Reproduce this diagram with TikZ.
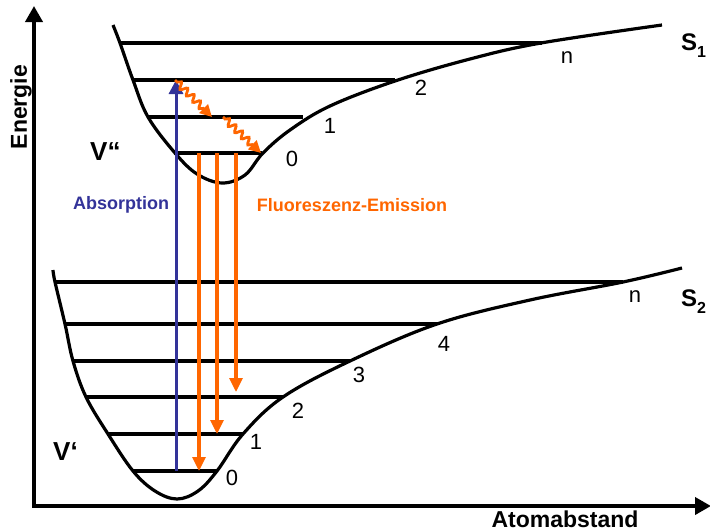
\documentclass[tikz,border=0pt]{standalone}
\usepackage{fontspec}
\setmainfont{Liberation Sans}
\usetikzlibrary{arrows.meta,decorations.pathmorphing}
\definecolor{absblue}{RGB}{51,51,153}
\definecolor{fluor}{RGB}{255,102,0}
\begin{document}
\begin{tikzpicture}[x=1pt,y=-1pt,
  level/.style={line width=3.4pt},
  pot/.style={line width=3.2pt, smooth, tension=0.6},
  axisline/.style={line width=3.8pt, line join=miter,
     {Triangle[width=17pt,length=16pt]}-{Triangle[width=17pt,length=16pt]}},
  absarrow/.style={absblue, line width=3pt, -{Triangle[width=14pt,length=14pt]}},
  fluarrow/.style={fluor, line width=3.2pt, -{Triangle[width=13pt,length=14pt]}},
  wavearrow/.style={fluor, line width=2.8pt, -{Triangle[width=12pt,length=12pt]},
     decorate, decoration={snake, amplitude=3.2pt, segment length=9pt, pre length=3pt, post length=10pt}},
  num/.style={font=\fontsize{22}{25}\selectfont, inner sep=0pt},
  bigb/.style={font=\fontsize{23}{27}\selectfont\bfseries, inner sep=0pt},
  midb/.style={font=\fontsize{18}{21}\selectfont\bfseries, inner sep=0pt},
  vlab/.style={font=\fontsize{26}{29}\selectfont\bfseries, inner sep=0pt, anchor=base west},
  slab/.style={font=\fontsize{24}{27}\selectfont\bfseries, inner sep=0pt, anchor=base west}
]
\useasboundingbox (0,0) rectangle (710,531);

% axes
\coordinate (Ytop) at (34,6);
\coordinate (O) at (34,506);
\coordinate (Xend) at (711,506);
\draw[axisline] (Ytop) -- (O) -- (Xend);
\node[bigb, rotate=90] (energie) at (21,107) {Energie};
\node[bigb] (atom) at (565,519) {Atomabstand};

% upper potential S1
\draw[pot] plot coordinates {(113,25) (120,43) (133,80) (148,117) (175,153) (197,174) (222,183)
  (245,175) (263,153) (290,130) (330,106) (395,81) (470,59) (541,43) (662,25)};
% lower potential S2
\draw[pot] plot coordinates {(53,270) (55,282) (65,324) (73,361) (86,397) (108,434) (133,471) (155,491) (177,499)
  (198,491) (217,471) (243,434) (283,397) (350,361) (437,324) (530,300) (623,282) (682,268)};

% upper levels
\coordinate (u3L) at (120,43);  \coordinate (u3R) at (542,43);
\coordinate (u2L) at (133,80);  \coordinate (u2R) at (395,80);
\coordinate (u1L) at (147,117); \coordinate (u1R) at (303,117);
\coordinate (u0L) at (174,153); \coordinate (u0R) at (262,153);
\foreach \l in {u3,u2,u1,u0} \draw[level] (\l L) -- (\l R);

% lower levels
\coordinate (lnL) at (54,282);  \coordinate (lnR) at (623,282);
\coordinate (l4L) at (65,324);  \coordinate (l4R) at (437,324);
\coordinate (l3L) at (73,361);  \coordinate (l3R) at (350,361);
\coordinate (l2L) at (85,397);  \coordinate (l2R) at (283,397);
\coordinate (l1L) at (108,434); \coordinate (l1R) at (243,434);
\coordinate (l0L) at (133,471); \coordinate (l0R) at (217,471);
\foreach \l in {ln,l4,l3,l2,l1,l0} \draw[level] (\l L) -- (\l R);

% level numbers
\node[num] (un) at (567,58) {n};
\node[num] (u2n) at (421,88) {2};
\node[num] (u1n) at (330,126) {1};
\node[num] (u0n) at (292,159) {0};
\node[num] (ln) at (635,297) {n};
\node[num] (l4n) at (444,344) {4};
\node[num] (l3n) at (359,375) {3};
\node[num] (l2n) at (298,411) {2};
\node[num] (l1n) at (256,442) {1};
\node[num] (l0n) at (232,478) {0};

% state labels
\node[slab] (s1) at (681,50) {S\raisebox{-0.33em}{\fontsize{16}{18}\selectfont 1}};
\node[slab] (s2) at (681,306) {S\raisebox{-0.33em}{\fontsize{16}{18}\selectfont 2}};
\node[vlab] (vpp) at (90,160) {V“};
\node[vlab] (vp) at (53,460) {V‘};

% absorption
\coordinate (absStart) at (176,471);
\coordinate (absEnd) at (176,80);
\draw[absarrow] (absStart) -- (absEnd);
\node[midb, text=absblue] (abstext) at (121,205) {Absorption};

% relaxation (wavy)
\coordinate (w1s) at (175,80);  \coordinate (w1e) at (212,117);
\coordinate (w2s) at (223,117); \coordinate (w2e) at (261,153);
\draw[wavearrow] (w1s) -- (w1e);
\draw[wavearrow] (w2s) -- (w2e);

% fluorescence
\coordinate (f1s) at (199,153); \coordinate (f1e) at (199,471);
\coordinate (f2s) at (217,153); \coordinate (f2e) at (217,434);
\coordinate (f3s) at (236,153); \coordinate (f3e) at (236,392);
\draw[fluarrow] (f1s) -- (f1e);
\draw[fluarrow] (f2s) -- (f2e);
\draw[fluarrow] (f3s) -- (f3e);
\node[midb, text=fluor] (flutext) at (352,205) {Fluoreszenz-Emission};
\end{tikzpicture}
\end{document}
